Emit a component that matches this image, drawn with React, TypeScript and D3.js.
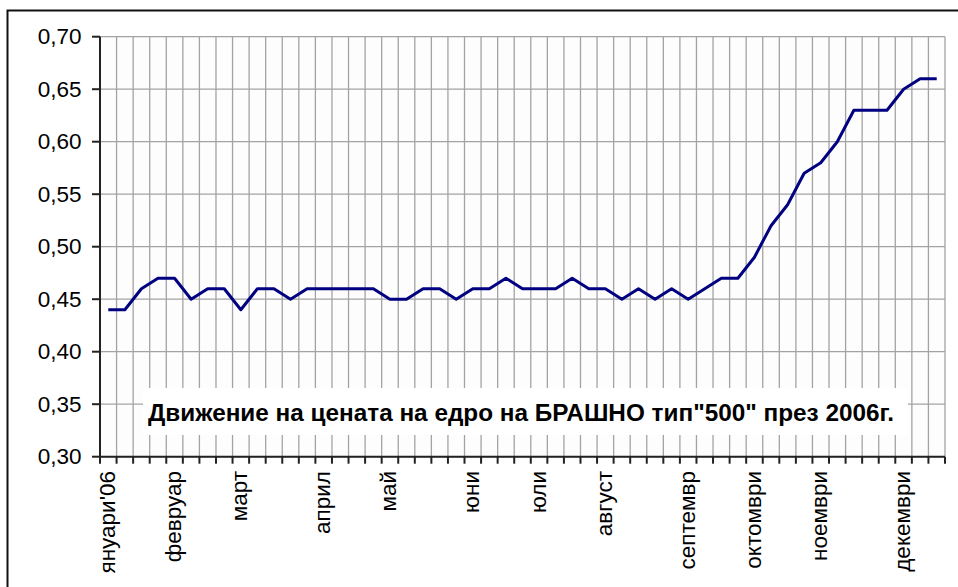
import React from "react";
import * as d3 from "d3";

const prices: number[] = [
  0.44, 0.44, 0.46, 0.47, 0.47, 0.45, 0.46, 0.46, 0.44, 0.46,
  0.46, 0.45, 0.46, 0.46, 0.46, 0.46, 0.46, 0.45, 0.45, 0.46,
  0.46, 0.45, 0.46, 0.46, 0.47, 0.46, 0.46, 0.46, 0.47, 0.46,
  0.46, 0.45, 0.46, 0.45, 0.46, 0.45, 0.46, 0.47, 0.47, 0.49,
  0.52, 0.54, 0.57, 0.58, 0.60, 0.63, 0.63, 0.63, 0.65, 0.66,
  0.66,
];
const monthLabels: string[] = [
  "януари'06", "февруар", "март", "април", "май", "юни",
  "юли", "август", "септемвр", "октомври", "ноември", "декември",
];
const monthLabelIndex: number[] = [0, 4, 8, 13, 17, 22, 26, 30, 35, 39, 43, 48];
const yTicks: number[] = [0.3, 0.35, 0.4, 0.45, 0.5, 0.55, 0.6, 0.65, 0.7];
const title = 'Движение на цената на едро на БРАШНО тип"500" през 2006г.';

const FONT = "'Liberation Sans', Arial, sans-serif";

export default function App() {
  const W = 958, H = 587;
  const left = 100, right = 945, top = 36.7, bottom = 456.7;
  const idx = prices.map((_, i) => i);
  const x = d3.scaleBand<number>().domain(idx).range([left, right]).paddingInner(0).paddingOuter(0);
  const y = d3.scaleLinear().domain([0.3, 0.7]).range([bottom, top]);
  const step = x.step();
  const cx = (i: number) => (x(i) as number) + step / 2;
  const line = d3.line<number>().x((_, i) => cx(i)).y((d) => y(d));
  const boundaries = d3.range(0, prices.length + 1).map((k) => left + k * step);
  const fmt = (v: number) => v.toFixed(2).replace(".", ",");
  const grid = "#a3a3a3";

  return (
    <svg width={W} height={H} style={{ position: "absolute", left: 0, top: 0, background: "#fff" }}>
      <rect x={0} y={0} width={W} height={H} fill="#fff" />
      <rect x={7.5} y={10.5} width={W + 20} height={H + 20} fill="#fff" stroke="#111" strokeWidth={2} />
      <rect x={left} y={top} width={right - left} height={bottom - top} fill="#fdfdfd" />
      {yTicks.map((t) => (
        <line key={"h" + t} x1={left} x2={right} y1={y(t)} y2={y(t)} stroke={grid} strokeWidth={1.3} />
      ))}
      {boundaries.slice(1).map((bx, k) => (
        <line key={"v" + k} x1={bx} x2={bx} y1={top} y2={bottom} stroke={grid} strokeWidth={1.3} />
      ))}
      <rect x={143} y={388} width={765} height={47} fill="#fff" />
      <text x={148} y={420.5} fontFamily={FONT} fontSize={24.3} fontWeight="bold" fill="#000"
        textLength={746} lengthAdjust="spacingAndGlyphs">
        {title}
      </text>
      <path d={line(prices) || ""} fill="none" stroke="#000080" strokeWidth={3} strokeLinejoin="round" />
      <line x1={left} x2={left} y1={top} y2={bottom} stroke="#222" strokeWidth={2} />
      <line x1={left} x2={right} y1={bottom} y2={bottom} stroke="#222" strokeWidth={2} />
      {yTicks.map((t) => (
        <g key={"yt" + t}>
          <line x1={left - 8} x2={left} y1={y(t)} y2={y(t)} stroke="#222" strokeWidth={2} />
          <text x={81.5} y={y(t) + 7.5} textAnchor="end" fontFamily={FONT} fontSize={22.5} fill="#000">
            {fmt(t)}
          </text>
        </g>
      ))}
      {boundaries.map((bx, k) => (
        <line key={"xt" + k} x1={bx} x2={bx} y1={bottom} y2={bottom + 7} stroke="#222" strokeWidth={2} />
      ))}
      {monthLabelIndex.map((i, k) => (
        <text
          key={"m" + k}
          transform={`translate(${cx(i) + 6.5},${471}) rotate(-90)`}
          textAnchor="end"
          fontFamily={FONT}
          fontSize={22.5}
          fill="#000"
        >
          {monthLabels[k]}
        </text>
      ))}
    </svg>
  );
}
